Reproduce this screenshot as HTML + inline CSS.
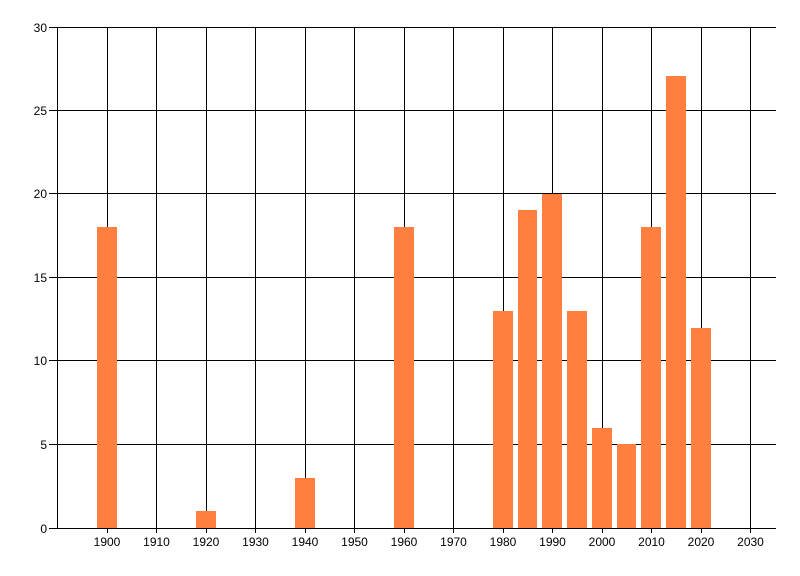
<!DOCTYPE html>
<html><head><meta charset="utf-8"><style>
html,body{margin:0;padding:0;background:#fff;}
svg{display:block;}
text{font-family:"Liberation Sans",sans-serif;font-size:12px;fill:#000;}
</style></head><body>
<svg width="800" height="576" viewBox="0 0 800 576" xmlns="http://www.w3.org/2000/svg">
<g stroke="#000" stroke-width="1" shape-rendering="crispEdges">
<!-- horizontal gridlines -->
<line x1="49" y1="27.5" x2="776" y2="27.5"/>
<line x1="49" y1="110.5" x2="776" y2="110.5"/>
<line x1="49" y1="193.5" x2="776" y2="193.5"/>
<line x1="49" y1="277.5" x2="776" y2="277.5"/>
<line x1="49" y1="360.5" x2="776" y2="360.5"/>
<line x1="49" y1="444.5" x2="776" y2="444.5"/>
<line x1="49" y1="528.5" x2="776" y2="528.5"/>
<!-- left axis -->
<line x1="57.5" y1="27" x2="57.5" y2="528"/>
<!-- vertical gridlines -->
<line x1="107.5" y1="27" x2="107.5" y2="533"/>
<line x1="156.5" y1="27" x2="156.5" y2="533"/>
<line x1="206.5" y1="27" x2="206.5" y2="533"/>
<line x1="255.5" y1="27" x2="255.5" y2="533"/>
<line x1="305.5" y1="27" x2="305.5" y2="533"/>
<line x1="354.5" y1="27" x2="354.5" y2="533"/>
<line x1="404.5" y1="27" x2="404.5" y2="533"/>
<line x1="453.5" y1="27" x2="453.5" y2="533"/>
<line x1="503.5" y1="27" x2="503.5" y2="533"/>
<line x1="552.5" y1="27" x2="552.5" y2="533"/>
<line x1="602.5" y1="27" x2="602.5" y2="533"/>
<line x1="651.5" y1="27" x2="651.5" y2="533"/>
<line x1="701.5" y1="27" x2="701.5" y2="533"/>
<line x1="750.5" y1="27" x2="750.5" y2="533"/>
</g>
<g fill="#FF7F40" shape-rendering="crispEdges">
<rect x="97" y="227" width="20" height="301"/>
<rect x="196" y="511" width="20" height="17"/>
<rect x="295" y="478" width="20" height="50"/>
<rect x="394" y="227" width="20" height="301"/>
<rect x="493" y="311" width="20" height="217"/>
<rect x="518" y="210" width="19" height="318"/>
<rect x="542" y="194" width="20" height="334"/>
<rect x="567" y="311" width="20" height="217"/>
<rect x="592" y="428" width="20" height="100"/>
<rect x="617" y="444" width="19" height="84"/>
<rect x="641" y="227" width="20" height="301"/>
<rect x="666" y="76" width="20" height="452"/>
<rect x="691" y="328" width="20" height="200"/>
</g>
<g text-anchor="end">
<text x="47" y="32">30</text>
<text x="47" y="115">25</text>
<text x="47" y="198">20</text>
<text x="47" y="282">15</text>
<text x="47" y="365">10</text>
<text x="47" y="449">5</text>
<text x="47" y="533">0</text>
</g>
<g text-anchor="middle">
<text x="107" y="546">1900</text>
<text x="156.5" y="546">1910</text>
<text x="206" y="546">1920</text>
<text x="255.5" y="546">1930</text>
<text x="305" y="546">1940</text>
<text x="354.5" y="546">1950</text>
<text x="404" y="546">1960</text>
<text x="453.5" y="546">1970</text>
<text x="503" y="546">1980</text>
<text x="552.5" y="546">1990</text>
<text x="602" y="546">2000</text>
<text x="651.5" y="546">2010</text>
<text x="701" y="546">2020</text>
<text x="750.5" y="546">2030</text>
</g>
</svg>
</body></html>
